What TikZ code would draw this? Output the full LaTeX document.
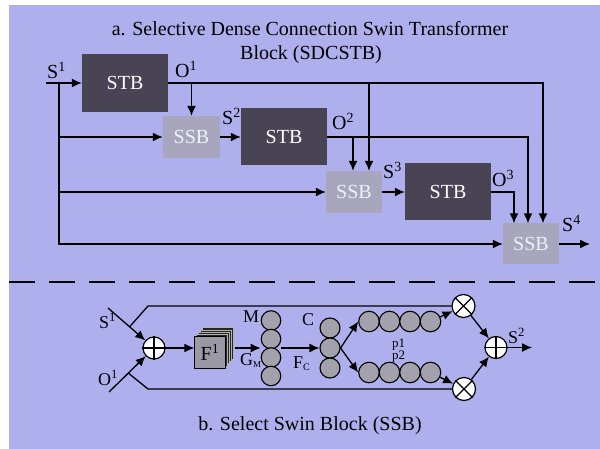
\documentclass[tikz,border=0pt]{standalone}
\usepackage{fontspec}
\setmainfont{Liberation Serif}
\usetikzlibrary{arrows.meta,calc}
\definecolor{bgc}{RGB}{175,175,237}
\definecolor{stbc}{RGB}{72,68,84}
\definecolor{ssbc}{RGB}{168,166,188}
\definecolor{ssbt}{RGB}{240,240,248}
\definecolor{ballc}{RGB}{163,161,172}
\definecolor{sqc}{RGB}{155,153,166}
\begin{document}
\begin{tikzpicture}[x=1pt,y=-1pt,
  big/.style={font=\fontsize{20}{24}\selectfont},
  mid/.style={font=\fontsize{18}{22}\selectfont},
  stbbox/.style={big,fill=stbc,text=white,minimum width=86pt,minimum height=57pt,inner sep=0},
  ssbbox/.style={big,fill=ssbc,text=ssbt,minimum width=56pt,minimum height=42pt,inner sep=0},
  ln/.style={line width=1.4pt},
  conn/.style={line width=1.4pt,-{Latex[length=10pt,width=9pt]}},
  lnb/.style={line width=1.3pt},
  connb/.style={line width=1.3pt,-{Latex[length=10pt,width=9pt]}},
  lbl/.style={anchor=base west,inner sep=0},
  ball/.style={circle,draw=black,line width=1.1pt,fill=ballc,minimum size=19.5pt,inner sep=0},
  opnode/.style={circle,draw=black,line width=1.2pt,fill=white,minimum size=22pt,inner sep=0},
  layer/.style={fill=black!85,draw=gray!60,line width=0.6pt}
]
\useasboundingbox (0,0) rectangle (600,449);
\fill[bgc] (9,5) rectangle (600,449);

% ---- titles
\node[big,anchor=base,inner sep=0] (t1a) at (310,36) {a. Selective Dense Connection Swin Transformer};
\node[big,anchor=base,inner sep=0] (t1b) at (311,60) {Block (SDCSTB)};

% ---- top blocks
\node[stbbox,minimum height=58pt] (stb1) at (125,83) {STB};
\node[ssbbox,minimum width=57pt] (ssb2) at (191.5,137) {SSB};
\node[stbbox] (stb2) at (284,137) {STB};
\node[ssbbox] (ssb3) at (354,192) {SSB};
\node[stbbox] (stb3) at (448,192) {STB};
\node[ssbbox,minimum height=41pt] (ssb4) at (531,244) {SSB};

\coordinate (s1in) at (46,83);
\coordinate (j1) at (59,83);
\coordinate (o1end) at (543,83);
\coordinate (o1b3) at (369,83);
\coordinate (o2end) at (528,137);
\coordinate (o2b3) at (353,137);
\coordinate (o3end) at (514,192);
\coordinate (s4out) at (590,244);

\draw[conn] (s1in) -- (stb1.west);
\draw[conn] (j1) -- (j1 |- ssb4.west) -- (ssb4.west);
\draw[conn] (j1 |- ssb2.west) -- (ssb2.west);
\draw[conn] (j1 |- ssb3.west) -- (ssb3.west);

\draw[conn] (stb1.east) -- (o1end) -- (o1end |- ssb4.north);
\draw[conn] (ssb2.north |- stb1.east) -- (ssb2.north);
\draw[conn] (o1b3) -- (o1b3 |- ssb3.north);

\draw[conn] (ssb2.east) -- (stb2.west);
\draw[conn] (stb2.east) -- (o2end) -- (o2end |- ssb4.north);
\draw[conn] (o2b3) -- (o2b3 |- ssb3.north);

\draw[conn] (ssb3.east) -- (stb3.west);
\draw[conn] (stb3.east) -- (o3end) -- (o3end |- ssb4.north);
\draw[conn] (ssb4.east) -- (s4out);

\node[big,lbl] (ls1) at (47,79) {S\textsuperscript{1}};
\node[big,lbl] (lo1) at (175,78) {O\textsuperscript{1}};
\node[big,lbl] (ls2) at (222,125) {S\textsuperscript{2}};
\node[big,lbl] (lo2) at (332,130) {O\textsuperscript{2}};
\node[big,lbl] (ls3) at (383,179) {S\textsuperscript{3}};
\node[big,lbl] (lo3) at (492,187) {O\textsuperscript{3}};
\node[big,lbl] (ls4) at (562,232) {S\textsuperscript{4}};

% ---- dashed separator
\coordinate (dl) at (9,282);
\coordinate (dr) at (600,282);
\draw[line width=1.3pt,dash pattern=on 25.5pt off 14.5pt] (dl) -- (dr);

% ---- bottom: SSB
\node[opnode] (op1) at (154,348) {};
\draw[line width=1.1pt] (op1.north) -- (op1.south) (op1.west) -- (op1.east);

\node[mid,minimum size=31pt,inner sep=0] (f1) at (210,352.5) {};
\foreach \k in {4,3,2,1}{
  \draw[layer] ($(f1.south west)+(2*\k,-2.3*\k)$) rectangle ($(f1.north east)+(2*\k,-2.3*\k)$);
}
\draw[fill=sqc,draw=black,line width=1.2pt] (f1.south west) rectangle (f1.north east);
\node[font=\fontsize{20}{24}\selectfont,inner sep=0] (f1t) at (f1) {F\textsuperscript{1}};

\foreach \i/\y in {1/320.5,2/339,3/357.5,4/376}{
  \node[ball] (m\i) at (271,\y) {};
}
\foreach \i/\y in {1/328,2/348,3/368}{
  \node[ball,minimum size=20pt] (c\i) at (330,\y) {};
}
\foreach \i/\x in {1/369,2/389.5,3/410,4/430.5}{
  \node[ball,minimum size=20.5pt] (t\i) at (\x,321.5) {};
  \node[ball,minimum size=20.5pt] (b\i) at (\x,372.5) {};
}
\node[opnode,minimum size=23pt] (ot1) at (463.5,306) {};
\draw[line width=1.1pt] (ot1.45) -- (ot1.225) (ot1.135) -- (ot1.315);
\node[opnode,minimum size=23pt] (ot2) at (464,389) {};
\draw[line width=1.1pt] (ot2.45) -- (ot2.225) (ot2.135) -- (ot2.315);
\node[opnode] (op2) at (496,347.5) {};
\draw[line width=1.1pt] (op2.north) -- (op2.south) (op2.west) -- (op2.east);

\coordinate (s1b) at (108,308);
\coordinate (o1b) at (109,392);
\coordinate (tc) at (148,306);
\coordinate (bc) at (148,389);
\coordinate (s2out) at (532,347.5);

\draw[connb] (s1b) -- (op1);
\draw[connb] (o1b) -- (op1);
\draw[lnb] ($(s1b)!0.47!(op1)$) -- (tc) -- (ot1.west);
\draw[lnb] ($(o1b)!0.43!(op1)$) -- (bc) -- (ot2.west);
\draw[connb] (op1.east) -- (f1.west |- op1);
\draw[connb] ($(f1.east |- op1)+(9,0)$) -- (m2.west |- op1);
\draw[connb] (m2.east |- op1) -- (c2.west);
\draw[connb] (c2.east) -- (t1.west);
\draw[connb] (c2.east) -- (b1.west);
\draw[connb] (t4) -- (ot1);
\draw[connb] (b4) -- (ot2);
\draw[connb] (ot1) -- (op2);
\draw[connb] (ot2) -- (op2);
\draw[connb] (op2.east) -- (s2out);

\node[mid,lbl] (lbs1) at (99,328) {S\textsuperscript{1}};
\node[mid,lbl] (lbo1) at (98,385) {O\textsuperscript{1}};
\node[mid,lbl] (lm) at (243,323) {M};
\node[mid,lbl] (lgm) at (240,365) {G\raisebox{-2pt}{\fontsize{9}{10}\selectfont M}};
\node[mid,lbl] (lc) at (302,325) {C};
\node[mid,lbl] (lfc) at (293,368) {F\raisebox{-2pt}{\fontsize{10}{10}\selectfont C}};
\node[font=\fontsize{13}{14}\selectfont,lbl] (lp1) at (392,347) {p1};
\node[font=\fontsize{13}{14}\selectfont,lbl] (lp2) at (392,359) {p2};
\node[mid,lbl] (lbs2) at (508,343) {S\textsuperscript{2}};

\node[big,anchor=base,inner sep=0] (capb) at (310,430) {b. Select Swin Block (SSB)};
\end{tikzpicture}
\end{document}
